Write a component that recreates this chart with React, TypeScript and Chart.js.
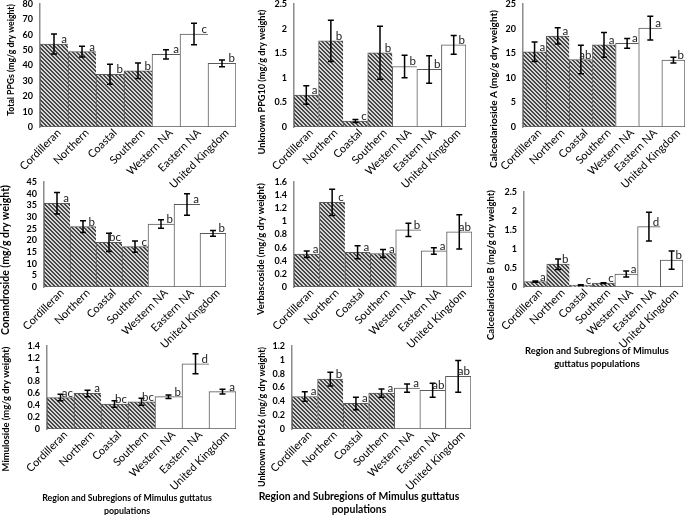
import React, { useEffect, useRef } from "react";
import { Chart, registerables } from "chart.js";
Chart.register(...registerables);

// ---------- DATA ----------
const categories = ["Cordilleran", "Northern", "Coastal", "Southern", "Western NA", "Eastern NA", "United Kingdom"];
const hatchedCount = 4;

const totalPPGs = [54, 49, 34.3, 36.6, 47.3, 60.5, 41.4];
const totalPPGsErr = [6.5, 3.5, 6.5, 5, 3, 7, 2.2];
const totalPPGsLetters = ["a", "a", "b", "b", "a", "c", "b"];

const ppg10 = [0.65, 1.75, 0.12, 1.51, 1.23, 1.17, 1.67];
const ppg10Err = [0.19, 0.42, 0.03, 0.54, 0.23, 0.28, 0.19];
const ppg10Letters = ["a", "b", "c", "b", "b", "b", "b"];

const calcA = [15.3, 18.5, 13.7, 16.7, 17, 20.1, 13.6];
const calcAErr = [2, 1.65, 2.9, 2.5, 1, 2.4, 0.6];
const calcALetters = ["a", "a", "ab", "a", "a", "a", "b"];

const conandroside = [35.9, 25.9, 19.1, 17.3, 27, 35.4, 23];
const conandrosideErr = [4.6, 2.5, 3.9, 2.4, 1.8, 4.6, 1.2];
const conandrosideLetters = ["a", "b", "bc", "c", "b", "a", "b"];

const verbascoside = [0.5, 1.29, 0.53, 0.51, 0.87, 0.55, 0.84];
const verbascosideErr = [0.05, 0.2, 0.1, 0.06, 0.1, 0.05, 0.26];
const verbascosideLetters = ["a", "c", "a", "a", "b", "a", "ab"];

const calcB = [0.14, 0.6, 0.05, 0.1, 0.34, 1.59, 0.71];
const calcBErr = [0.015, 0.14, 0.01, 0.01, 0.08, 0.38, 0.24];
const calcBLetters = ["a", "b", "c", "c", "a", "d", "b"];

const mimuloside = [0.53, 0.6, 0.42, 0.46, 0.545, 1.1, 0.63];
const mimulosideErr = [0.055, 0.055, 0.055, 0.06, 0.03, 0.17, 0.04];
const mimulosideLetters = ["ac", "a", "bc", "bc", "b", "d", "a"];

const ppg16 = [0.47, 0.72, 0.37, 0.52, 0.59, 0.56, 0.76];
const ppg16Err = [0.07, 0.1, 0.09, 0.06, 0.06, 0.1, 0.23];
const ppg16Letters = ["a", "b", "a", "a", "a", "ab", "ab"];

const xTitleLinesA = ["Region and Subregions of Mimulus guttatus", "populations"];
const xTitleLinesB = ["Region and Subregions of Mimulus", "guttatus populations"];

// ---------- LAYOUT / STYLE ----------
const W = 685;
const H = 515;
const Y_AXIS_W = 30;
const FONT = "Lato, 'Liberation Sans', sans-serif";

type XTitle = { lines: string[]; cx: number; ys: number[]; span: number };
type PanelDef = {
  values: number[];
  errors: number[];
  letters: string[];
  yTitle: string;
  yMax: number;
  yStep: number;
  plot: [number, number, number, number]; // left, top, right, bottom
  yTitlePos: [number, number, number]; // cx, cy, span
  xTitle?: XTitle;
};

const panels: PanelDef[] = [
  { values: totalPPGs, errors: totalPPGsErr, letters: totalPPGsLetters, yTitle: "Total PPGs (mg/g dry weight)", yMax: 80, yStep: 10, plot: [40, 4, 236, 127], yTitlePos: [11, 60, 112] },
  { values: ppg10, errors: ppg10Err, letters: ppg10Letters, yTitle: "Unknown PPG10 (mg/g dry weight)", yMax: 2.5, yStep: 0.5, plot: [294, 4, 466, 127], yTitlePos: [262, 82, 145] },
  { values: calcA, errors: calcAErr, letters: calcALetters, yTitle: "Calceolarioside A (mg/g dry weight)", yMax: 25, yStep: 5, plot: [523, 4, 685, 127], yTitlePos: [494, 89, 158] },
  { values: conandroside, errors: conandrosideErr, letters: conandrosideLetters, yTitle: "Conandroside (mg/g dry weight)", yMax: 45, yStep: 5, plot: [44, 182, 226, 287], yTitlePos: [6, 260, 150] },
  { values: verbascoside, errors: verbascosideErr, letters: verbascosideLetters, yTitle: "Verbascoside (mg/g dry weight)", yMax: 1.6, yStep: 0.2, plot: [294, 182, 472, 287], yTitlePos: [261, 249, 132] },
  { values: calcB, errors: calcBErr, letters: calcBLetters, yTitle: "Calceolarioside B (mg/g dry weight)", yMax: 2.5, yStep: 0.5, plot: [524, 192, 683, 287], yTitlePos: [491, 265, 150], xTitle: { lines: xTitleLinesB, cx: 597, ys: [351, 364], span: 144 } },
  { values: mimuloside, errors: mimulosideErr, letters: mimulosideLetters, yTitle: "Mimuloside (mg/g dry weight)", yMax: 1.4, yStep: 0.2, plot: [47, 346, 236, 429], yTitlePos: [6, 409, 125], xTitle: { lines: xTitleLinesA, cx: 127, ys: [498, 511], span: 170 } },
  { values: ppg16, errors: ppg16Err, letters: ppg16Letters, yTitle: "Unknown PPG16 (mg/g dry weight)", yMax: 1.2, yStep: 0.2, plot: [292, 346, 471, 429], yTitlePos: [262, 417, 140], xTitle: { lines: xTitleLinesA, cx: 359, ys: [497, 510], span: 201 } },
];

function makeHatch(ctx: CanvasRenderingContext2D): CanvasPattern | string {
  const c = document.createElement("canvas");
  c.width = 4;
  c.height = 4;
  const g = c.getContext("2d");
  if (!g) return "#888";
  g.fillStyle = "#d6d6d6";
  g.fillRect(0, 0, 4, 4);
  g.fillStyle = "#474747";
  for (let y = 0; y < 4; y++)
    for (let x = 0; x < 4; x++) if ((((x - y) % 4) + 4) % 4 < 2) g.fillRect(x, y, 1, 1);
  return ctx.createPattern(c, "repeat") || "#888";
}

function fitFont(ctx: CanvasRenderingContext2D, text: string, span: number, weight: string) {
  ctx.font = `${weight} 10px ${FONT}`;
  const w = ctx.measureText(text).width;
  return (10 * span) / w;
}

function makePlugin(p: PanelDef) {
  return {
    id: "annot",
    afterDraw(chart: any) {
      const ctx: CanvasRenderingContext2D = chart.ctx;
      const meta = chart.getDatasetMeta(0);
      const ys = chart.scales.y;
      const area = chart.chartArea;
      ctx.save();
      // error bars
      ctx.strokeStyle = "#000";
      ctx.lineWidth = 1.5;
      meta.data.forEach((el: any, i: number) => {
        const v = p.values[i];
        const e = p.errors[i];
        const yHi = ys.getPixelForValue(v + e);
        const yLo = ys.getPixelForValue(Math.max(0, v - e));
        const x = el.x;
        ctx.beginPath();
        ctx.moveTo(x, yHi);
        ctx.lineTo(x, yLo);
        ctx.moveTo(x - 3, yHi);
        ctx.lineTo(x + 3, yHi);
        ctx.moveTo(x - 3, yLo);
        ctx.lineTo(x + 3, yLo);
        ctx.stroke();
      });
      // letters
      ctx.fillStyle = "#222";
      ctx.font = `11.5px ${FONT}`;
      ctx.textAlign = "right";
      ctx.textBaseline = "alphabetic";
      meta.data.forEach((el: any, i: number) => {
        ctx.fillText(p.letters[i], el.x + el.width / 2 - 1, el.y - 1);
      });
      // x tick labels
      ctx.fillStyle = "#000";
      ctx.font = `11px ${FONT}`;
      ctx.textAlign = "right";
      ctx.textBaseline = "middle";
      meta.data.forEach((el: any, i: number) => {
        ctx.save();
        ctx.translate(el.x + 5, area.bottom + 4);
        ctx.rotate(-Math.PI / 4);
        ctx.fillText(categories[i], 0, 0);
        ctx.restore();
      });
      // y title
      const [tx, ty, span] = p.yTitlePos;
      const size = fitFont(ctx, p.yTitle, span, "bold");
      ctx.font = `bold ${size}px ${FONT}`;
      ctx.textAlign = "center";
      ctx.textBaseline = "middle";
      ctx.save();
      ctx.translate(tx, ty);
      ctx.rotate(-Math.PI / 2);
      ctx.fillText(p.yTitle, 0, 0);
      ctx.restore();
      // x title
      if (p.xTitle) {
        const xt = p.xTitle;
        const s = fitFont(ctx, xt.lines[0], xt.span, "bold");
        ctx.font = `bold ${s}px ${FONT}`;
        ctx.textAlign = "center";
        ctx.textBaseline = "middle";
        xt.lines.forEach((line, k) => ctx.fillText(line, xt.cx, xt.ys[k]));
      }
      ctx.restore();
    },
  };
}

function PanelChart({ p }: { p: PanelDef }) {
  const ref = useRef<HTMLCanvasElement>(null);
  useEffect(() => {
    const canvas = ref.current;
    if (!canvas) return;
    const ctx = canvas.getContext("2d");
    if (!ctx) return;
    const hatch = makeHatch(ctx);
    const [l, t, r, b] = p.plot;
    const chart = new Chart(canvas, {
      type: "bar",
      data: {
        labels: categories,
        datasets: [
          {
            data: p.values,
            backgroundColor: (c: any) => (c.dataIndex < hatchedCount ? hatch : "#ffffff"),
            borderColor: "#5a5a5a",
            borderWidth: (c: any) => ({ top: 1, left: 1, bottom: 1, right: c.dataIndex === categories.length - 1 ? 1 : 0 }),
            borderSkipped: false,
            categoryPercentage: 1,
            barPercentage: 1,
          } as any,
        ],
      },
      options: {
        animation: false,
        responsive: false,
        events: [],
        layout: { padding: { left: l - Y_AXIS_W, top: t, right: W - r, bottom: H - b } },
        plugins: { legend: { display: false }, tooltip: { enabled: false }, title: { display: false } },
        scales: {
          x: {
            type: "category",
            offset: true,
            grid: { display: false, drawTicks: false },
            border: { display: false },
            ticks: { display: false },
            afterFit: (s: any) => {
              s.height = 0;
              s.paddingLeft = 0;
              s.paddingRight = 0;
            },
          },
          y: {
            min: 0,
            max: p.yMax,
            grid: { display: false, drawTicks: false },
            border: { display: true, color: "#8c8c8c", width: 1.5 },
            ticks: {
              stepSize: p.yStep,
              autoSkip: false,
              padding: 7,
              color: "#000",
              font: { family: FONT, size: 9, weight: "bold" },
              callback: (v: any) => String(Number(Number(v).toFixed(2))),
            },
            afterFit: (s: any) => {
              s.width = Y_AXIS_W;
              s.paddingTop = 0;
              s.paddingBottom = 0;
            },
          },
        },
      } as any,
      plugins: [makePlugin(p)],
    });
    return () => chart.destroy();
  }, [p]);
  return (
    <canvas
      ref={ref}
      width={W}
      height={H}
      style={{ position: "absolute", left: 0, top: 0, width: W, height: H }}
    />
  );
}

export default function App() {
  return (
    <div style={{ position: "fixed", left: 0, top: 0, width: W, height: H, background: "#fff", overflow: "hidden" }}>
      {panels.map((p, i) => (
        <PanelChart key={i} p={p} />
      ))}
    </div>
  );
}
